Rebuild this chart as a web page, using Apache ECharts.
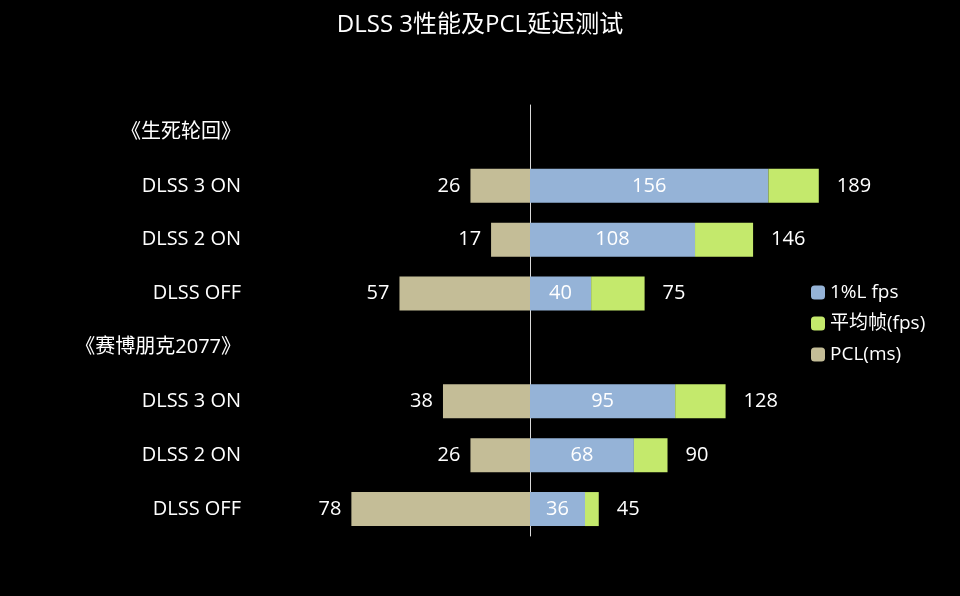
<!DOCTYPE html>
<html><head><meta charset="utf-8">
<script src="https://cdn.jsdelivr.net/npm/echarts@6/dist/echarts.min.js"></script>
<style>html,body{margin:0;background:#000}#c{width:960px;height:596px}</style>
</head><body><div id="c"></div>
<script>
var categories = ['《生死轮回》', 'DLSS 3 ON', 'DLSS 2 ON', 'DLSS OFF', '《赛博朋克2077》', 'DLSS 3 ON', 'DLSS 2 ON', 'DLSS OFF'];
var lowFps = [null, 156, 108, 40, null, 95, 68, 36];
var avgFps = [null, 189, 146, 75, null, 128, 90, 45];
var pcl = [null, 26, 17, 57, null, 38, 26, 78];

var chart = echarts.init(document.getElementById('c'));
var font = '"Open Sans", "Noto Sans CJK SC", sans-serif';
var extra = avgFps.map(function (v, i) { return v == null ? null : v - lowFps[i]; });

chart.setOption({
    backgroundColor: '#000',
    textStyle: { fontFamily: font },
    title: { text: 'DLSS 3性能及PCL延迟测试', left: 'center', top: 8,
        textStyle: { color: '#fff', fontSize: 24, fontWeight: 'normal', fontFamily: font } },
    legend: {
        orient: 'vertical', left: 806, top: 278, itemWidth: 14, itemHeight: 14, itemGap: 12,
        textStyle: { color: '#fff', fontSize: 19, fontFamily: font },
        data: ['1%L fps', '平均帧(fps)', 'PCL(ms)']
    },
    grid: [
        { left: 301, width: 229, top: 105, bottom: 60, containLabel: false },
        { left: 530, width: 382, top: 105, bottom: 60, containLabel: false }
    ],
    xAxis: [
        { gridIndex: 0, type: 'value', min: 0, max: 100, inverse: true, show: false },
        { gridIndex: 1, type: 'value', min: 0, max: 250, show: false }
    ],
    yAxis: [
        { gridIndex: 0, type: 'category', data: categories, inverse: true,
          axisLine: { show: false }, axisTick: { show: false },
          axisLabel: { color: '#fff', fontSize: 20, margin: 60, fontFamily: font } },
        { gridIndex: 1, type: 'category', data: categories, inverse: true,
          axisLine: { show: true, lineStyle: { color: '#d9d9d9', width: 1 } },
          axisTick: { show: false }, axisLabel: { show: false } }
    ],
    series: [
        { name: 'PCL(ms)', type: 'bar', xAxisIndex: 0, yAxisIndex: 0, data: pcl, barWidth: 34,
          itemStyle: { color: '#c4bd97' },
          label: { show: true, position: 'left', color: '#fff', fontSize: 20, distance: 10 } },
        { name: '1%L fps', type: 'bar', xAxisIndex: 1, yAxisIndex: 1, stack: 'r', data: lowFps, barWidth: 34,
          itemStyle: { color: '#95b3d7' },
          label: { show: true, position: 'inside', color: '#fff', fontSize: 20 } },
        { name: '平均帧(fps)', type: 'bar', xAxisIndex: 1, yAxisIndex: 1, stack: 'r', data: extra, barWidth: 34,
          itemStyle: { color: '#c4e96c' },
          label: { show: true, position: 'right', color: '#fff', fontSize: 20, distance: 18,
              formatter: function (p) { return avgFps[p.dataIndex]; } } }
    ]
});
</script></body></html>
